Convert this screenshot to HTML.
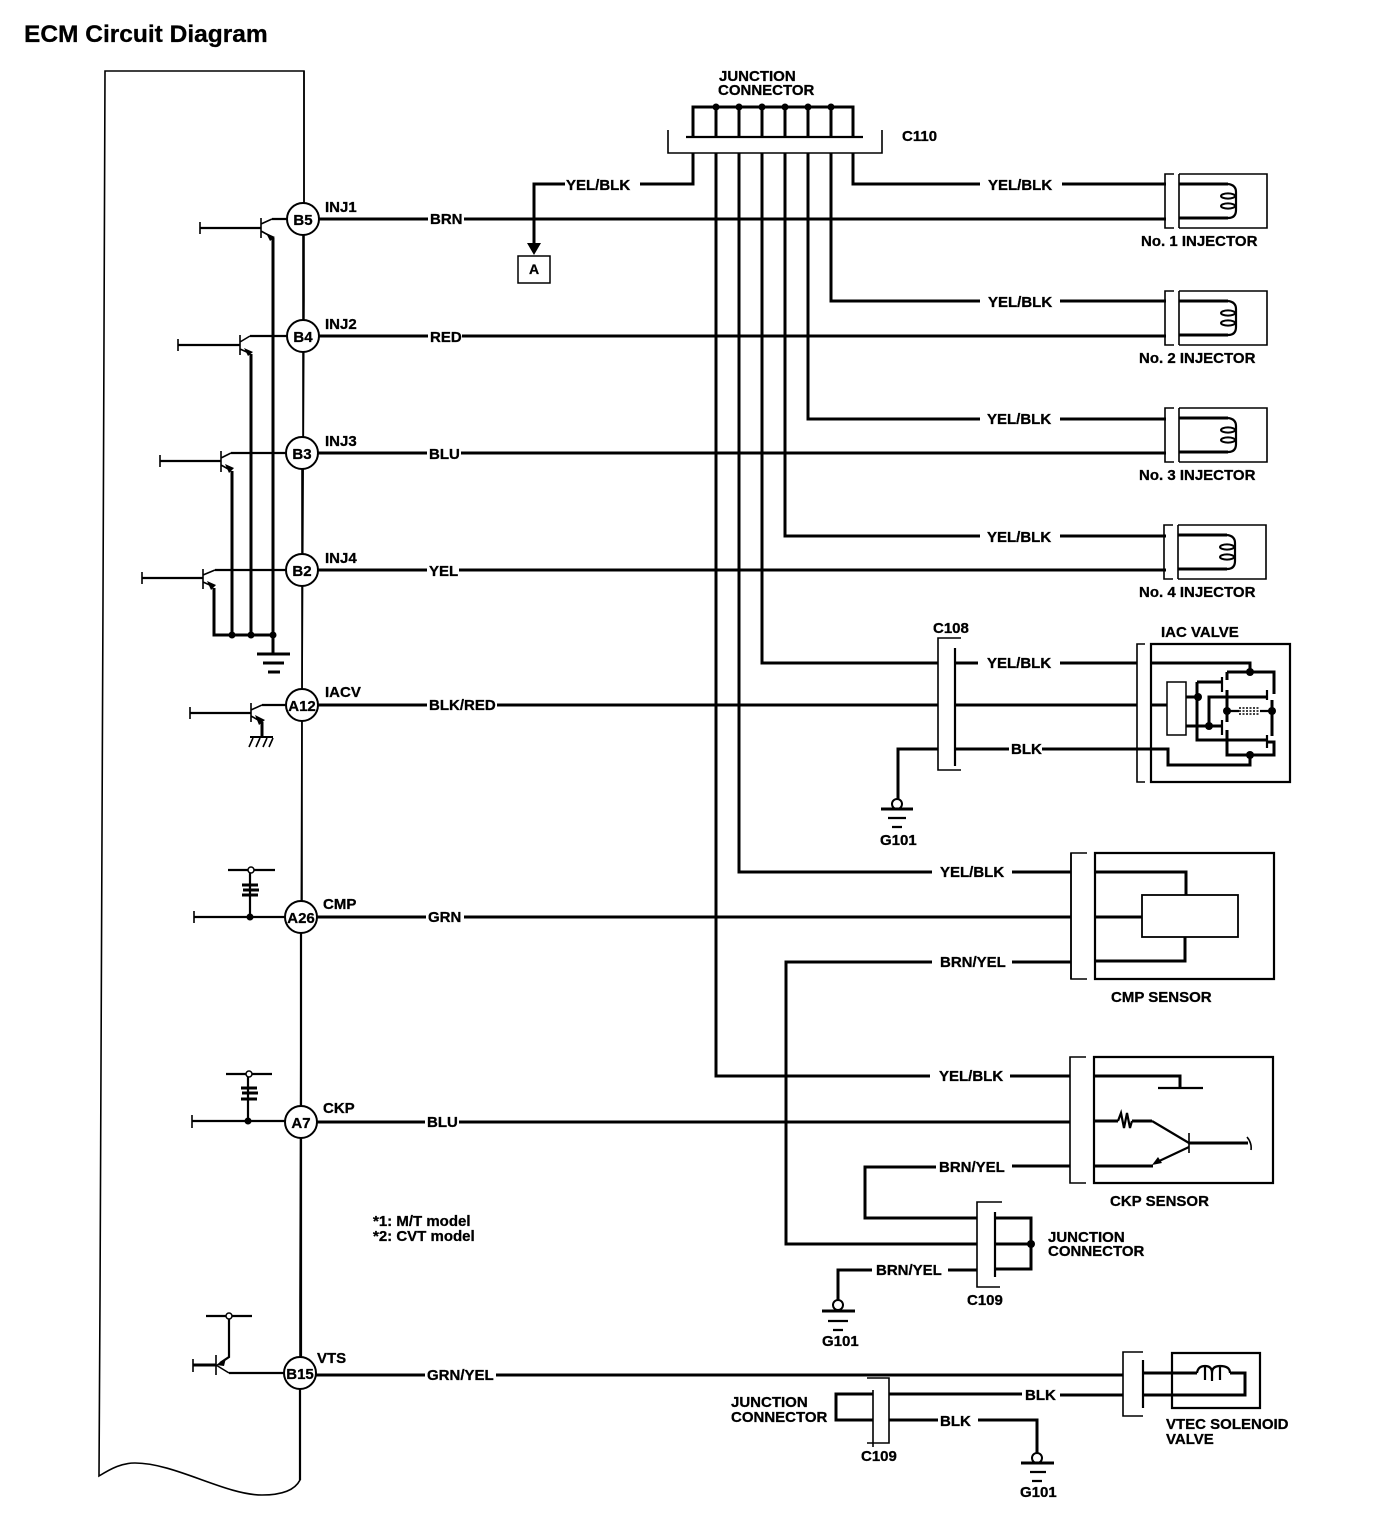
<!DOCTYPE html>
<html>
<head>
<meta charset="utf-8">
<style>
html,body{margin:0;padding:0;background:#fff}
svg{display:block}
text{font-family:"Liberation Sans",sans-serif;font-weight:bold;font-size:15px;fill:#000;stroke:#000;stroke-width:.3}
.k{fill:none;stroke:#000;stroke-width:3}
.t{fill:none;stroke:#000;stroke-width:1.6}
.m{fill:none;stroke:#000;stroke-width:2.2}
.d{fill:#000}
.c{fill:#fff;stroke:#000;stroke-width:2}
.n{text-anchor:middle}
</style>
</head>
<body>
<svg xmlns="http://www.w3.org/2000/svg" width="1392" height="1526" viewBox="0 0 1392 1526">
<text x="24" y="42" style="font-size:24.5px">ECM Circuit Diagram</text>

<!-- ECM outline -->
<path class="t" d="M304 71H105L103 600L100 1300L99 1476C112 1468 122 1463 135 1463C175 1463 225 1495 262 1495C282 1495 295 1490 300 1480L300 1300L302 700L304 300Z"/>

<!-- Vertical link between pins -->
<path class="t" d="M304 71V205M303 235V320M303 352V437M302 469V554M302 586V689M302 721V901"/>
<path class="m" d="M301 933V1106M301 1138V1357M300 1389V1480"/>

<!-- Transistors -->
<path class="m" d="M200 228H261M272 219H287M234 345H240M178 345H240M250 336H287M160 461H221M231 453H287M142 578H203M215 570H286M190 713H251M262 705H286"/>
<path class="t" d="M200 222V234M178 339V351M160 455V467M142 572V584M190 707V719M261 218V238M240 335V355M221 451V472M203 569V589M251 703V722M261 224L272 219M240 342L250 336M221 458L231 453M203 575L215 570M251 710L262 705M261 231L270 236M240 349L249 353M221 465L230 470M203 582L212 586M251 716L260 721"/>
<path class="k" d="M273 238V635M251 354V635M232 471V635M214 588V635H273M273 635V654M262 722V737"/>
<path class="d" d="M266 233L275 237L270 241ZM244 348L253 352L248 356ZM225 464L234 468L229 473ZM207 581L216 585L211 590ZM255 715L265 720L259 725Z"/>
<circle class="d" cx="232" cy="635" r="3.5"/><circle class="d" cx="251" cy="635" r="3.5"/><circle class="d" cx="273" cy="635" r="3.5"/>
<path class="k" d="M257 654H290M263 663H284M268 672H280"/>
<path class="k" d="M250 737H273" style="stroke-width:2"/>
<path class="t" d="M253 738L249 747M260 738L256 747M267 738L263 747M273 738L269 747"/>

<!-- A26 / A7 inputs -->
<path class="m" d="M194 917H285M250 917V870M192 1121H285M248 1121V1074M228 870H275M226 1074H272"/>
<path class="t" d="M194 911V923M192 1115V1128"/>
<path class="k" d="M242 885H258M243 890H259M242 895H258M241 1088H257M242 1093H258M241 1099H257"/>
<circle class="d" cx="250" cy="917" r="3.5"/><circle class="d" cx="248" cy="1121" r="3.5"/>
<circle cx="251" cy="870" r="3" fill="#fff" stroke="#000" stroke-width="1.5"/>
<circle cx="249" cy="1074" r="3" fill="#fff" stroke="#000" stroke-width="1.5"/>

<!-- B15 input -->
<path class="m" d="M206 1316H252M229 1316V1357L220 1363M229 1373H284"/>
<path class="t" d="M193 1359V1372M216 1355V1375M216 1365L229 1373"/>
<path class="k" d="M193 1365H216"/>
<path class="d" d="M216 1365L226 1358L224 1366Z"/>
<circle cx="229" cy="1316" r="3" fill="#fff" stroke="#000" stroke-width="1.5"/>

<!-- Pins -->
<circle class="c" cx="303" cy="219" r="16"/><circle class="c" cx="303" cy="336" r="16"/><circle class="c" cx="302" cy="453" r="16"/><circle class="c" cx="302" cy="570" r="16"/><circle class="c" cx="302" cy="705" r="16"/><circle class="c" cx="301" cy="917" r="16"/><circle class="c" cx="301" cy="1122" r="16"/><circle class="c" cx="300" cy="1373" r="16"/>
<text class="n" x="303" y="225">B5</text><text class="n" x="303" y="342">B4</text><text class="n" x="302" y="459">B3</text><text class="n" x="302" y="576">B2</text><text class="n" x="302" y="711">A12</text><text class="n" x="301" y="923">A26</text><text class="n" x="301" y="1128">A7</text><text class="n" x="300" y="1379">B15</text>

<text x="325" y="212">INJ1</text><text x="325" y="329">INJ2</text><text x="325" y="446">INJ3</text><text x="325" y="563">INJ4</text><text x="325" y="697">IACV</text><text x="323" y="909">CMP</text><text x="323" y="1113">CKP</text><text x="317" y="1363">VTS</text>

<!-- Main horizontal wires -->
<path class="k" d="M319 219H428M464 219H1166M319 336H428M462 336H1166M318 453H427M461 453H1166M318 570H427M459 570H1166M318 705H427M497 705H938M955 705H1137M317 917H426M464 917H1071M317 1122H425M459 1122H1070M316 1375H425M496 1375H1123"/>
<text x="430" y="224">BRN</text><text x="430" y="342">RED</text><text x="429" y="459">BLU</text><text x="429" y="576">YEL</text><text x="429" y="710">BLK/RED</text><text x="428" y="922">GRN</text><text x="427" y="1127">BLU</text><text x="427" y="1380">GRN/YEL</text>

<!-- C110 junction -->
<text x="719" y="81">JUNCTION</text><text x="718" y="95">CONNECTOR</text><text x="902" y="141">C110</text>
<path class="k" d="M693 137V107H853V137M716 107V137M739 107V137M762 107V137M785 107V137M808 107V137M831 107V137"/>
<circle class="d" cx="716" cy="107" r="3.5"/><circle class="d" cx="739" cy="107" r="3.5"/><circle class="d" cx="762" cy="107" r="3.5"/><circle class="d" cx="785" cy="107" r="3.5"/><circle class="d" cx="808" cy="107" r="3.5"/><circle class="d" cx="831" cy="107" r="3.5"/>
<path class="m" d="M686 137H863"/>
<path class="t" d="M668 130V153H882V130"/>
<path class="k" d="M693 153V184H640M565 184H534V245M853 153V184H980M1062 184H1166M831 153V301H980M1060 301H1166M808 153V419H980M1060 419H1166M785 153V536H980M1060 536H1166M762 153V663H938M955 663H978M1060 663H1137M739 153V872H932M1012 872H1071M716 153V1076H930M1010 1076H1070"/>
<path class="d" d="M527 243H541L534 255Z"/>
<rect x="518" y="256" width="32" height="27" fill="#fff" stroke="#000" stroke-width="1.5"/>
<text class="n" x="534" y="274" style="font-size:14px">A</text>
<text x="566" y="190">YEL/BLK</text><text x="988" y="190">YEL/BLK</text><text x="988" y="307">YEL/BLK</text><text x="987" y="424">YEL/BLK</text><text x="987" y="542">YEL/BLK</text><text x="987" y="668">YEL/BLK</text><text x="940" y="877">YEL/BLK</text><text x="939" y="1081">YEL/BLK</text>

<!-- Injector 1 -->
<g>
<path class="t" d="M1174 174H1165V228H1174M1179 174V228M1179 174H1267V228H1179"/>
<path class="k" d="M1179 184H1228M1179 218H1228"/>
<path class="m" d="M1228 184Q1236 185 1236 192V210Q1236 218 1228 218"/>
<ellipse cx="1228" cy="196" rx="7" ry="2.6" fill="none" stroke="#000" stroke-width="2"/>
<ellipse cx="1228" cy="206" rx="7" ry="2.6" fill="none" stroke="#000" stroke-width="2"/>
</g>
<g transform="translate(0,117)">
<path class="t" d="M1174 174H1165V228H1174M1179 174V228M1179 174H1267V228H1179"/>
<path class="k" d="M1179 184H1228M1179 218H1228"/>
<path class="m" d="M1228 184Q1236 185 1236 192V210Q1236 218 1228 218"/>
<ellipse cx="1228" cy="196" rx="7" ry="2.6" fill="none" stroke="#000" stroke-width="2"/>
<ellipse cx="1228" cy="206" rx="7" ry="2.6" fill="none" stroke="#000" stroke-width="2"/>
</g>
<g transform="translate(0,234)">
<path class="t" d="M1174 174H1165V228H1174M1179 174V228M1179 174H1267V228H1179"/>
<path class="k" d="M1179 184H1228M1179 218H1228"/>
<path class="m" d="M1228 184Q1236 185 1236 192V210Q1236 218 1228 218"/>
<ellipse cx="1228" cy="196" rx="7" ry="2.6" fill="none" stroke="#000" stroke-width="2"/>
<ellipse cx="1228" cy="206" rx="7" ry="2.6" fill="none" stroke="#000" stroke-width="2"/>
</g>
<g transform="translate(-1,351)">
<path class="t" d="M1174 174H1165V228H1174M1179 174V228M1179 174H1267V228H1179"/>
<path class="k" d="M1179 184H1228M1179 218H1228"/>
<path class="m" d="M1228 184Q1236 185 1236 192V210Q1236 218 1228 218"/>
<ellipse cx="1228" cy="196" rx="7" ry="2.6" fill="none" stroke="#000" stroke-width="2"/>
<ellipse cx="1228" cy="206" rx="7" ry="2.6" fill="none" stroke="#000" stroke-width="2"/>
</g>
<text x="1141" y="246">No. 1 INJECTOR</text><text x="1139" y="363">No. 2 INJECTOR</text><text x="1139" y="480">No. 3 INJECTOR</text><text x="1139" y="597">No. 4 INJECTOR</text>

<!-- C108 -->
<text x="933" y="633">C108</text>
<path class="t" d="M961 638H938V770H961"/>
<path class="m" d="M955 648V766"/>
<path class="k" d="M955 749H1009M1042 749H1137M938 749H898V800"/>
<text x="1011" y="754">BLK</text>
<circle cx="897" cy="804" r="5" fill="#fff" stroke="#000" stroke-width="2"/>
<path class="k" d="M881 809H913"/><path class="m" d="M888 818H906M892 827H902"/>
<text x="880" y="845">G101</text>

<!-- IAC valve -->
<text x="1161" y="637">IAC VALVE</text>
<path class="t" d="M1145 644H1137V782H1145"/>
<path class="m" d="M1151 644H1290V782H1151Z"/>
<path class="k" d="M1151 663H1250V672M1151 705H1167M1137 749H1168V765H1250V755M1227 672H1274V694M1227 672V680M1227 690V722M1227 730V755H1274V742H1266M1272 700V736M1186 697H1198M1186 726H1222M1197 682H1222M1197 682V740H1266M1209 726V697H1267"/>
<path class="m" d="M1222 677V692M1222 720V735M1267 690V700M1267 735V748M1227 711H1239M1260 711H1272"/>
<rect x="1167" y="682" width="19" height="53" fill="#fff" stroke="#000" stroke-width="1.5"/>
<path class="t" d="M1239 708h21M1239 711h21M1239 714h21" style="stroke-dasharray:2 1.5"/>
<circle class="d" cx="1250" cy="672" r="4"/><circle class="d" cx="1198" cy="697" r="4"/><circle class="d" cx="1227" cy="711" r="4"/><circle class="d" cx="1272" cy="711" r="4"/><circle class="d" cx="1209" cy="726" r="4"/><circle class="d" cx="1250" cy="755" r="4"/>

<!-- CMP sensor -->
<path class="t" d="M1087 853H1071V979H1087"/>
<path class="m" d="M1095 853H1274V979H1095Z"/>
<path class="k" d="M1071 853V979" style="stroke-width:1.6"/>
<path class="k" d="M1095 872H1186V895M1095 917H1142M1095 961H1185V937"/>
<rect x="1142" y="895" width="96" height="42" fill="#fff" stroke="#000" stroke-width="1.8"/>
<text x="1111" y="1002">CMP SENSOR</text>
<path class="k" d="M1071 962H1012M932 962H786V1244H977"/>
<text x="940" y="967">BRN/YEL</text>

<!-- CKP sensor -->
<path class="t" d="M1086 1057H1070V1183H1086"/>
<path class="m" d="M1094 1057H1273V1183H1094Z"/>
<path class="k" d="M1094 1076H1180V1088M1094 1121H1118M1132 1121H1152M1094 1166H1153M1070 1166H1012M1189 1143H1248"/>
<path class="m" d="M1158 1088H1203M1118 1121L1121 1113L1124 1128L1127 1113L1130 1128L1132 1121M1152 1121L1189 1143M1189 1147L1155 1163"/>
<path class="t" d="M1189 1133V1153M1247 1137Q1252 1143 1251 1150"/>
<path class="d" d="M1152 1165L1158 1157L1162 1163Z"/>
<text x="1110" y="1206">CKP SENSOR</text>
<path class="k" d="M936 1167H865V1218H977"/>
<text x="939" y="1172">BRN/YEL</text>

<!-- C109 upper -->
<path class="t" d="M1002 1202H977V1287H1000"/>
<path class="m" d="M995 1212V1277"/>
<path class="k" d="M995 1218H1031V1269H995M995 1244H1031M977 1270H948M872 1270H838V1300"/>
<circle class="d" cx="1031" cy="1244" r="4"/>
<text x="876" y="1275">BRN/YEL</text>
<text x="1048" y="1242">JUNCTION</text><text x="1048" y="1256">CONNECTOR</text>
<text x="967" y="1305">C109</text>
<circle cx="838" cy="1305" r="5" fill="#fff" stroke="#000" stroke-width="2"/>
<path class="k" d="M822 1311H855"/><path class="m" d="M828 1321H848M833 1330H843"/>
<text x="822" y="1346">G101</text>

<text x="373" y="1226">*1: M/T model</text><text x="373" y="1241">*2: CVT model</text>

<!-- VTEC -->
<path class="t" d="M1143 1352H1123V1416H1143"/>
<path class="m" d="M1143 1360V1408"/>
<path class="m" d="M1172 1353H1260V1408H1172Z"/>
<path class="k" d="M1143 1373H1197M1230 1373H1245V1395H1143M1060 1395H1123"/>
<path class="m" d="M1197 1373Q1198 1366 1205 1366Q1212 1366 1212 1373Q1212 1366 1220 1366Q1230 1366 1230 1373M1205 1366V1380M1212 1368V1381M1220 1366V1380"/>
<text x="1166" y="1429">VTEC SOLENOID</text><text x="1166" y="1444">VALVE</text>

<!-- C109 lower -->
<path class="t" d="M867 1378H889V1443H867M873 1390V1447"/>
<path class="k" d="M873 1394H836V1420H873M889 1394H1022M889 1420H938M978 1420H1037V1453"/>
<text x="1025" y="1400">BLK</text><text x="940" y="1426">BLK</text>
<text x="731" y="1407">JUNCTION</text><text x="731" y="1422">CONNECTOR</text>
<text x="861" y="1461">C109</text>
<circle cx="1037" cy="1458" r="5" fill="#fff" stroke="#000" stroke-width="2"/>
<path class="k" d="M1021 1463H1054"/><path class="m" d="M1030 1472H1046M1032 1481H1042"/>
<text x="1020" y="1497">G101</text>
</svg>
</body>
</html>
